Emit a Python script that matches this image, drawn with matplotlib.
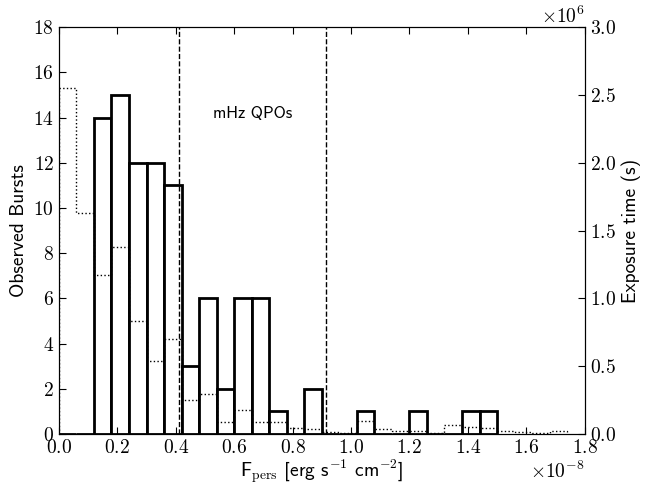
import matplotlib
matplotlib.use('Agg')
import matplotlib.pyplot as plt
import numpy as np

plt.rcParams['font.family'] = 'serif'
plt.rcParams['font.serif'] = ['cmr10']
plt.rcParams['mathtext.fontset'] = 'cm'
plt.rcParams['axes.formatter.use_mathtext'] = True
plt.rcParams['font.size'] = 14

sans = ['cmss10', 'DejaVu Sans']

# burst histogram, bin width 0.06e-8 starting at 0
bin_w = 0.06e-8
bursts = [0, 0, 14, 15, 12, 12, 11, 3, 6, 2, 6, 6, 1, 0, 2, 0, 0, 1, 0, 0, 1,
          0, 0, 1, 1]

# exposure time per bin (s), same bins, out to 1.74e-8
exposure = [2.55e6, 1.63e6, 1.17e6, 1.38e6, 0.835e6, 0.54e6, 0.70e6, 0.25e6,
            0.295e6, 0.085e6, 0.18e6, 0.085e6, 0.085e6, 0.042e6, 0.035e6,
            0.012e6, 0.005e6, 0.098e6, 0.035e6, 0.025e6, 0.02e6, 0.006e6,
            0.068e6, 0.054e6, 0.046e6, 0.024e6, 0.012e6, 0.005e6, 0.024e6]

qpo_lo = 0.41e-8
qpo_hi = 0.915e-8

left_edges = np.arange(len(bursts)) * bin_w
exp_edges = np.arange(len(exposure) + 1) * bin_w

fig = plt.figure(figsize=(6.69, 4.86), dpi=100)
ax = fig.add_axes([0.088, 0.107, 0.786, 0.837])

ax.bar(left_edges, bursts, width=bin_w, align='edge', facecolor='white',
       edgecolor='black', linewidth=2)
ax.axvline(qpo_lo, color='black', linestyle='--', linewidth=1)
ax.axvline(qpo_hi, color='black', linestyle='--', linewidth=1)
ax.text(0.662e-8, 14.0, 'mHz QPOs', family=sans, fontsize=12, ha='center')

ax.set_xlim(0, 1.8e-8)
ax.set_ylim(0, 18)
ax.set_yticks(np.arange(0, 19, 2))
ax.set_xlabel(r'F$_{\rm pers}$ [erg s$^{-1}$ cm$^{-2}$]', family=sans,
              fontsize=14, labelpad=0)
ax.set_ylabel('Observed Bursts', family=sans, fontsize=14)
ax.tick_params(direction='in', top=True, length=5)

ax2 = ax.twinx()
ax2.stairs(exposure, exp_edges, color='black', linestyle=':', linewidth=1)
ax2.set_ylim(0, 3.0e6)
ax2.set_yticks(np.arange(0, 3.01e6, 0.5e6))
ax2.set_ylabel('Exposure time (s)', family=sans, fontsize=14)
ax2.tick_params(direction='in', length=5)

plt.savefig('out.png')
